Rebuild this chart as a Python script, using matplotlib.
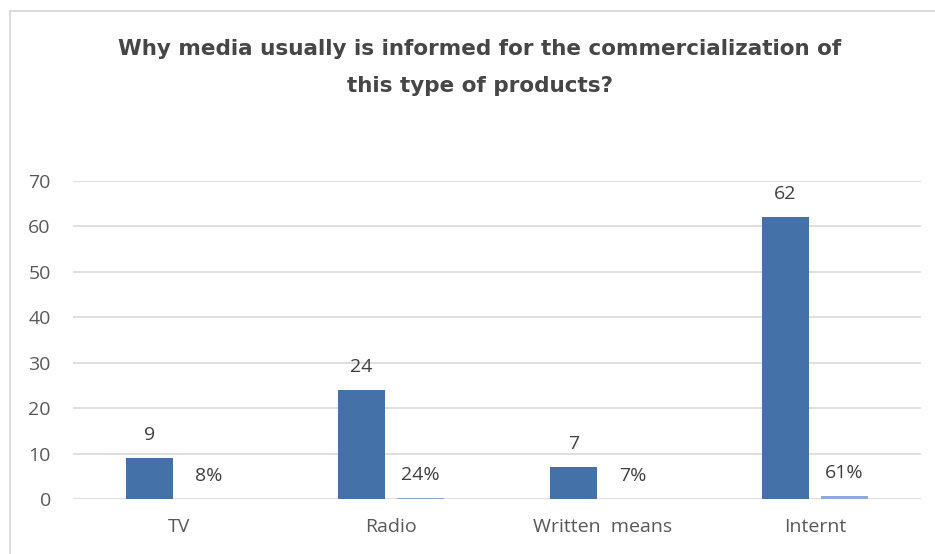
import numpy as np
import matplotlib.pyplot as plt
from matplotlib.lines import Line2D

categories = ['TV', 'Radio', 'Written  means', 'Internt']
counts = [9, 24, 7, 62]
shares = [0.08, 0.24, 0.07, 0.61]

title = 'Why media usually is informed for the commercialization of\nthis type of products?'

plt.rcParams['font.family'] = ['Open Sans', 'DejaVu Sans']

fig = plt.figure(figsize=(9.35, 5.54), dpi=100)
ax = fig.add_axes([73 / 935, 55 / 554, 848 / 935, 318 / 554])

x = np.arange(len(categories))
w = 0.22
b1 = ax.bar(x - 0.14, counts, w, color='#4472A8', zorder=3)
b2 = ax.bar(x + 0.14, shares, w, color='#8EA9DB', zorder=3)

ax.bar_label(b1, labels=[str(c) for c in counts], padding=10,
             fontsize=14, color='#404040')
ax.bar_label(b2, labels=['{:.0%}'.format(s) for s in shares], padding=10,
             fontsize=14, color='#404040')

ax.set_xlim(-0.5, len(categories) - 0.5)
ax.set_ylim(0, 70)
ax.set_yticks(range(0, 71, 10))
ax.set_xticks(x)
ax.set_xticklabels(categories)
ax.tick_params(axis='both', length=0, labelsize=14, labelcolor='#595959')
ax.tick_params(axis='y', pad=16)
ax.tick_params(axis='x', pad=14)
ax.grid(axis='y', color='#d9d9d9', linewidth=1.2, zorder=0)
for s in ax.spines.values():
    s.set_visible(False)

fig.text(0.513, 1 - 67.5 / 554, title, ha='center', va='center',
         fontsize=15.5, fontweight='bold', color='#464646', linespacing=2.05,
         family='DejaVu Sans')

# outer chart border (top and left edges)
fig.add_artist(Line2D([10 / 935, 10 / 935], [0, 1 - 10.5 / 554],
                      color='#d9d9d9', lw=1.3, transform=fig.transFigure))
fig.add_artist(Line2D([10 / 935, 1], [1 - 10.5 / 554, 1 - 10.5 / 554],
                      color='#d9d9d9', lw=1.3, transform=fig.transFigure))

fig.savefig('out.png', dpi=100)
